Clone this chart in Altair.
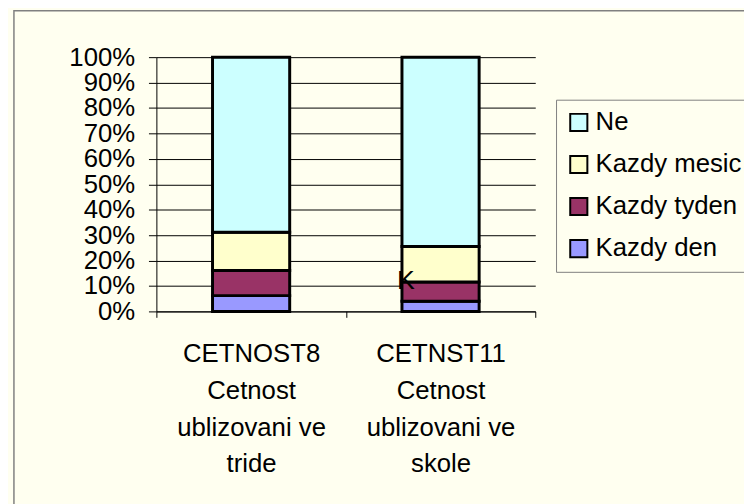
import altair as alt
import pandas as pd

categories = ["CETNOST8\nCetnost\nublizovani ve\ntride",
              "CETNST11\nCetnost\nublizovani ve\nskole"]
series = ["Kazdy den", "Kazdy tyden", "Kazdy mesic", "Ne"]
values_cetnost8 = [6.2, 9.9, 15.0, 68.9]
values_cetnst11 = [4.0, 7.6, 13.9, 74.5]
legend_order = ["Ne", "Kazdy mesic", "Kazdy tyden", "Kazdy den"]
colors = ["#CCFFFF", "#FFFFCC", "#993366", "#9999FF"]
y_ticks = [0, 0.1, 0.2, 0.3, 0.4, 0.5, 0.6, 0.7, 0.8, 0.9, 1.0]
stray_text = ["K"]
stray_value = [0.09]

rows = []
for cat, vals in zip(categories, [values_cetnost8, values_cetnst11]):
    for i, (s, v) in enumerate(zip(series, vals)):
        rows.append({"cat": cat, "series": s, "value": v, "ord": i})
df = pd.DataFrame(rows)

FONT = "Liberation Sans"
FS = 26

x_axis = alt.Axis(title=None, labelAngle=0, tickBand="extent",
                  labelExpr="split(datum.label, '\\n')",
                  labelFontSize=FS, labelFont=FONT, labelColor="black",
                  labelLineHeight=37, labelBaseline="top",
                  labelPadding=24, labelLimit=0,
                  tickSize=6, tickColor="black", domainColor="black",
                  grid=False)
y_axis = alt.Axis(title=None, values=y_ticks, format=".0%",
                  labelOverlap=False, tickCount=11,
                  labelFontSize=FS, labelFont=FONT, labelColor="black",
                  labelPadding=14, tickSize=8, tickColor="black",
                  domainColor="black", grid=True, gridColor="black",
                  gridOpacity=1, gridWidth=1)
x_scale = alt.Scale(paddingInner=0, paddingOuter=0)
y_scale = alt.Scale(domain=[0, 1])

bars = alt.Chart(df).mark_bar(size=78, stroke="black", strokeWidth=3).encode(
    x=alt.X("cat:N", sort=categories, scale=x_scale, axis=x_axis),
    y=alt.Y("value:Q", stack="normalize", scale=y_scale, axis=y_axis),
    color=alt.Color("series:N",
                    scale=alt.Scale(domain=legend_order, range=colors),
                    legend=alt.Legend(title=None, orient="none",
                                      legendX=404, legendY=43,
                                      symbolType="square", symbolSize=300,
                                      symbolStrokeColor="black",
                                      symbolStrokeWidth=2, symbolOpacity=1,
                                      labelFontSize=FS, labelFont=FONT,
                                      labelColor="black", labelOffset=4,
                                      labelExpr="datum.label + '        '",
                                      labelLimit=0,
                                      rowPadding=16.5, padding=10,
                                      strokeColor="#808080",
                                      fillColor="#FFFFF0")),
    order=alt.Order("ord:Q", sort="ascending"),
)

stray = alt.Chart(pd.DataFrame({"cat": [categories[1]], "v": stray_value,
                                "t": stray_text})).mark_text(
    fontSize=27, font=FONT, color="black", align="left", baseline="alphabetic",
    dx=-44).encode(
    x=alt.X("cat:N", sort=categories, scale=x_scale, axis=x_axis),
    y=alt.Y("v:Q", scale=y_scale, axis=y_axis),
    text="t:N",
)

frame = alt.Chart(pd.DataFrame({"a": [0]})).mark_rect(
    fill="transparent", stroke="#808080", strokeWidth=1.5).encode(
    x=alt.value(-144), x2=alt.value(900), y=alt.value(-47), y2=alt.value(900))

chart = alt.layer(frame, bars, stray).properties(
    width=383, height=257,
    autosize=alt.AutoSizeParams(type="none"),
    padding={"left": 150, "top": 47, "right": 211, "bottom": 192},
    background="#FFFFF0",
).configure_view(stroke=None)

chart.save("out.html", embed_options={"renderer": "svg", "actions": False})
